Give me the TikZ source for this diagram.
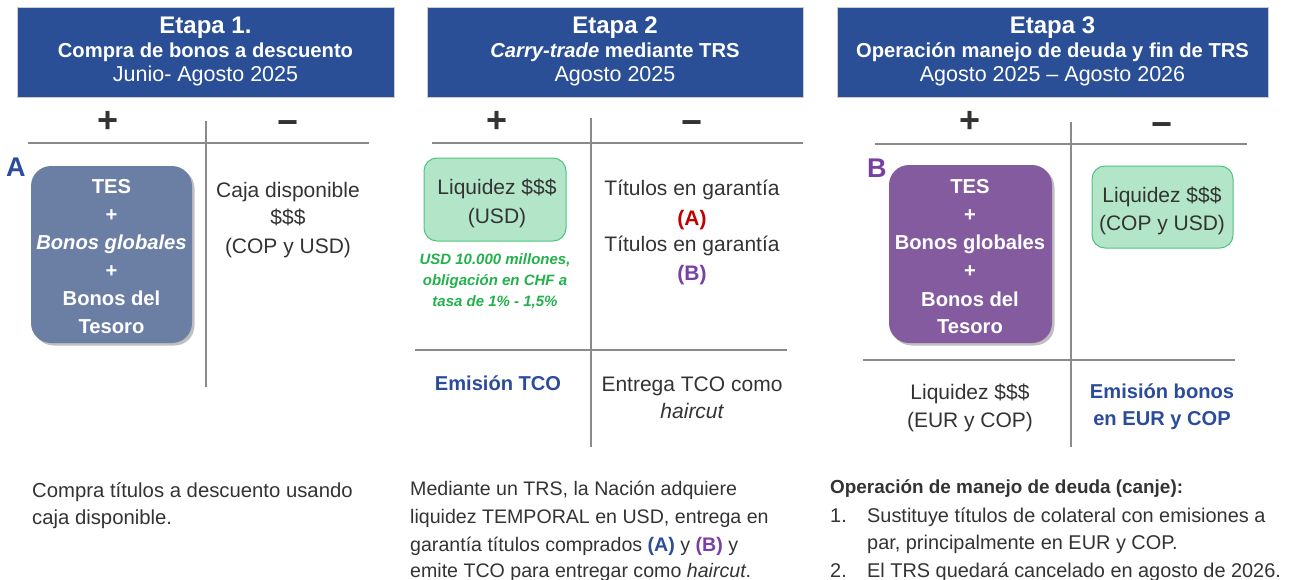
\documentclass[tikz,border=0pt]{standalone}
\usepackage{fontspec}
\setmainfont{Liberation Sans}
\usetikzlibrary{shadows}
\definecolor{hdr}{HTML}{2A4F97}
\definecolor{dark}{HTML}{333333}
\definecolor{ablue}{HTML}{2B4C9B}
\definecolor{bpurple}{HTML}{7A3FA3}
\definecolor{boxA}{HTML}{6B7FA5}
\definecolor{boxB}{HTML}{845B9E}
\definecolor{gfill}{HTML}{B3E6C8}
\definecolor{gline}{HTML}{4DC47D}
\definecolor{gtext}{HTML}{22B14C}
\definecolor{redA}{HTML}{C00000}
\definecolor{rule}{HTML}{8A8A8A}
\tikzset{
  hdrbox/.style={fill=hdr, draw=black!20, line width=0.6pt, inner sep=0pt},
  htitle/.style={anchor=base, text=white, font=\bfseries\fontsize{24}{24}\selectfont, inner sep=0pt},
  hsub/.style={anchor=base, text=white, font=\bfseries\fontsize{20.2}{20.2}\selectfont, inner sep=0pt},
  hdate/.style={anchor=base, text=white, font=\fontsize{21.5}{21.5}\selectfont, inner sep=0pt},
  pm/.style={text=dark, font=\bfseries\fontsize{36}{36}\selectfont, inner sep=0pt},
  body/.style={anchor=base, text=dark, font=\fontsize{21}{21}\selectfont, inner sep=0pt},
  bodyl/.style={anchor=base west, text=dark, font=\fontsize{19.9}{19.9}\selectfont, inner sep=0pt},
  wb/.style={anchor=base, text=white, font=\bfseries\fontsize{20.2}{20.2}\selectfont, inner sep=0pt},
  bb/.style={anchor=base, text=ablue, font=\bfseries\fontsize{20.1}{20.1}\selectfont, inner sep=0pt},
  gt/.style={anchor=base, text=gtext, font=\bfseries\itshape\fontsize{15}{15}\selectfont, inner sep=0pt},
  letter/.style={anchor=base west, font=\bfseries\fontsize{27}{27}\selectfont, inner sep=0pt},
  bigbox/.style={rounded corners=20pt, inner sep=0pt, draw=none,
     drop shadow={shadow xshift=2.5pt, shadow yshift=-2.5pt, fill=black!50, opacity=0.5}},
  gbox/.style={rounded corners=13pt, fill=gfill, draw=gline, line width=1pt, inner sep=0pt},
  tline/.style={draw=rule, line width=1.2pt},
}
\begin{document}
\begin{tikzpicture}[x=1pt,y=-1pt]
\useasboundingbox (0,0) rectangle (1291,579);
% ---------- headers
\node[hdrbox, minimum width=377, minimum height=90] (h1) at (205.5,52) {};
\node[htitle] (h1a) at (205.5,33) {Etapa 1.};
\node[hsub] (h1b) at (205.5,57) {Compra de bonos a descuento};
\node[hdate] (h1c) at (205.5,81) {Junio- Agosto 2025};

\node[hdrbox, minimum width=376, minimum height=90] (h2) at (615,52) {};
\node[htitle] (h2a) at (615,33) {Etapa 2};
\node[hsub] (h2b) at (615,57) {\itshape Carry-trade\upshape{} mediante TRS};
\node[hdate] (h2c) at (615,81) {Agosto 2025};

\node[hdrbox, minimum width=431, minimum height=90] (h3) at (1052.5,52) {};
\node[htitle] (h3a) at (1052.5,33) {Etapa 3};
\node[hsub] (h3b) at (1052.5,57) {Operación manejo de deuda y fin de TRS};
\node[hdate] (h3c) at (1052.5,81) {Agosto 2025 – Agosto 2026};

% ---------- stage 1
\node[pm] (p1) at (108,122) {+};
\node[pm] (m1) at (288,128) {−};
\path[tline] (28,143) -- (369,143);
\path[tline] (206,121) -- (206,387);
\node[letter, text=ablue] (lA) at (6,176) {A};
\node[bigbox, fill=boxA, minimum width=161, minimum height=177] (bA) at (111.5,254.5) {};
\node[wb] (a1) at (111.5,193) {TES};
\node[wb] (a2) at (111.5,221) {+};
\node[wb] (a3) at (111.5,249) {\itshape Bonos globales};
\node[wb] (a4) at (111.5,277) {+};
\node[wb] (a5) at (111.5,305) {Bonos del};
\node[wb] (a6) at (111.5,333) {Tesoro};
\node[body] (c1) at (288,197) {Caja disponible};
\node[body] (c2) at (288,224) {\$\$\$};
\node[body] (c3) at (288,253) {(COP y USD)};
\node[bodyl, font=\fontsize{20.3}{20.3}\selectfont] (t1a) at (32,497) {Compra títulos a descuento usando};
\node[bodyl, font=\fontsize{20.3}{20.3}\selectfont] (t1b) at (32,524) {caja disponible.};

% ---------- stage 2
\node[pm] (p2) at (497,122) {+};
\node[pm] (m2) at (692,128) {−};
\path[tline] (432,143) -- (803,143);
\path[tline] (591,118) -- (591,447);
\path[tline] (415,350) -- (787,350);
\node[gbox, minimum width=142, minimum height=83] (g2) at (495,199.5) {};
\node[body] (l2a) at (497,194) {Liquidez \$\$\$};
\node[body] (l2b) at (497,223) {(USD)};
\node[gt] (n2a) at (495,264) {USD 10.000 millones,};
\node[gt] (n2b) at (495,285) {obligación en CHF a};
\node[gt] (n2c) at (495,306) {tasa de 1\% - 1,5\%};
\node[body] (r2a) at (692,195) {Títulos en garantía};
\node[body, text=redA, font=\bfseries\fontsize{21}{21}\selectfont] (r2b) at (692,225) {(A)};
\node[body] (r2c) at (692,251) {Títulos en garantía};
\node[body, text=bpurple, font=\bfseries\fontsize{21}{21}\selectfont] (r2d) at (692,280) {(B)};
\node[bb] (e2) at (498,390) {Emisión TCO};
\node[body] (e2a) at (692,391) {Entrega TCO como};
\node[body] (e2b) at (692,418) {\itshape haircut};
\node[bodyl, font=\fontsize{19.6}{19.6}\selectfont] (t2a) at (410,495) {Mediante un TRS, la Nación adquiere};
\node[bodyl, font=\fontsize{19.6}{19.6}\selectfont] (t2b) at (410,523) {liquidez TEMPORAL en USD, entrega en};
\node[bodyl, font=\fontsize{19.6}{19.6}\selectfont] (t2c) at (410,551) {garantía títulos comprados {\color{ablue}\bfseries(A)} y {\color{bpurple}\bfseries(B)} y};
\node[bodyl, font=\fontsize{19.6}{19.6}\selectfont] (t2d) at (410,577) {emite TCO para entregar como \textit{haircut}.};

% ---------- stage 3
\node[pm] (p3) at (970,122) {+};
\node[pm] (m3) at (1162,130) {−};
\path[tline] (875,144) -- (1247,144);
\path[tline] (1071,122) -- (1071,447);
\path[tline] (863,360) -- (1235,360);
\node[letter, text=bpurple] (lB) at (867,177) {B};
\node[bigbox, fill=boxB, minimum width=163, minimum height=178] (bB) at (970.5,254) {};
\node[wb] (b1) at (970,193) {TES};
\node[wb] (b2) at (970,221) {+};
\node[wb] (b3) at (970,249) {Bonos globales};
\node[wb] (b4) at (970,277) {+};
\node[wb] (b5) at (970,306) {Bonos del};
\node[wb] (b6) at (970,333) {Tesoro};
\node[gbox, minimum width=141, minimum height=82] (g3) at (1162.5,207) {};
\node[body] (l3a) at (1162,202) {Liquidez \$\$\$};
\node[body] (l3b) at (1162,230) {(COP y USD)};
\node[body] (l3c) at (970,399) {Liquidez \$\$\$};
\node[body] (l3d) at (970,427) {(EUR y COP)};
\node[bb] (e3a) at (1162,398) {Emisión bonos};
\node[bb] (e3b) at (1162,425) {en EUR y COP};
\node[bodyl, font=\bfseries\fontsize{18.9}{18.9}\selectfont] (t3a) at (830,493) {Operación de manejo de deuda (canje):};
\node[bodyl] (t3n1) at (830,522) {1.};
\node[bodyl] (t3b) at (867,522) {Sustituye títulos de colateral con emisiones a};
\node[bodyl] (t3c) at (867,549) {par, principalmente en EUR y COP.};
\node[bodyl] (t3n2) at (830,577) {2.};
\node[bodyl] (t3d) at (867,577) {El TRS quedará cancelado en agosto de 2026.};
\end{tikzpicture}
\end{document}
